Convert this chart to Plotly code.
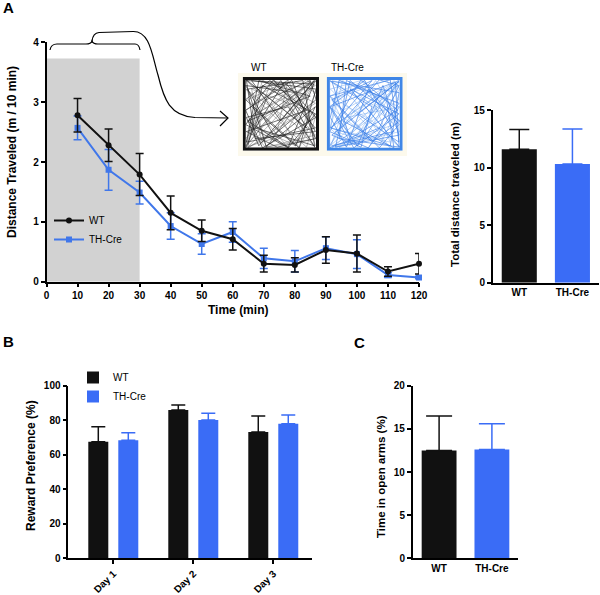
import plotly.graph_objects as go

W, H = 600, 595
def fx(p): return p / W
def fy(p): return 1 - p / H

# ---------------- data ----------------
time_min = [10, 20, 30, 40, 50, 60, 70, 80, 90, 100, 110, 120]
wt_dist = [2.78, 2.28, 1.79, 1.15, 0.85, 0.71, 0.30, 0.28, 0.53, 0.47, 0.17, 0.30]
wt_dist_err = [0.28, 0.27, 0.35, 0.28, 0.18, 0.18, 0.14, 0.12, 0.22, 0.31, 0.08, 0.17]
th_dist = [2.57, 1.87, 1.49, 0.93, 0.63, 0.83, 0.39, 0.34, 0.56, 0.46, 0.11, 0.07]
th_dist_err = [0.20, 0.34, 0.19, 0.22, 0.17, 0.17, 0.17, 0.18, 0.19, 0.24, 0.04, 0.02]

groups = ["WT", "TH-Cre"]
total_dist = [11.6, 10.3]
total_dist_err = [1.7, 3.05]

days = ["Day 1", "Day 2", "Day 3"]
wt_reward = [67.5, 85.9, 73.2]
wt_reward_err = [8.7, 2.9, 9.2]
th_reward = [68.4, 80.1, 78.0]
th_reward_err = [4.4, 3.9, 5.0]

open_arms = [12.5, 12.6]
open_arms_err = [4.0, 3.0]

# decorative trajectory sketch for the open-field insets (unit square)
traj_x = [0.03, 0.95, 0.60, 0.05, 0.90, 0.20, 0.03, 0.97, 0.40, 0.10, 0.70, 0.97, 0.30, 0.05,
          0.80, 0.96, 0.15, 0.55, 0.98, 0.25, 0.02, 0.65, 0.97, 0.45, 0.03, 0.85, 0.35, 0.02,
          0.75, 0.98, 0.10, 0.50, 0.96, 0.20, 0.03, 0.60, 0.97, 0.02, 0.30, 0.90, 0.98, 0.40,
          0.02, 0.70, 0.97, 0.15, 0.03, 0.85, 0.50, 0.02, 0.60, 0.97, 0.25, 0.05]
traj_y = [0.97, 0.92, 0.03, 0.40, 0.75, 0.97, 0.10, 0.30, 0.98, 0.60, 0.05, 0.60, 0.04, 0.85,
          0.97, 0.05, 0.30, 0.95, 0.45, 0.02, 0.55, 0.97, 0.15, 0.03, 0.25, 0.55, 0.97, 0.70,
          0.02, 0.85, 0.97, 0.40, 0.97, 0.05, 0.45, 0.60, 0.02, 0.02, 0.70, 0.97, 0.70, 0.20,
          0.90, 0.80, 0.25, 0.15, 0.98, 0.30, 0.97, 0.35, 0.02, 0.50, 0.90, 0.05]

BLACK = "#111111"
BLUE_LINE = "#4077ea"
BLUE_BAR = "#3a6cf6"
FONT = "Liberation Sans, Arial, Helvetica, sans-serif"

fig = go.Figure()

# ---------------- Panel A: time course ----------------
fig.add_trace(go.Scatter(
    x=time_min, y=th_dist, mode="lines+markers", name="TH-Cre", cliponaxis=False,
    line=dict(color=BLUE_LINE, width=2),
    marker=dict(symbol="square", size=6, color=BLUE_LINE),
    error_y=dict(type="data", array=th_dist_err, color=BLUE_LINE, thickness=1.5, width=4),
    xaxis="x", yaxis="y", legend="legend", legendrank=2))
fig.add_trace(go.Scatter(
    x=time_min, y=wt_dist, mode="lines+markers", name="WT", cliponaxis=False,
    line=dict(color=BLACK, width=2),
    marker=dict(symbol="circle", size=6, color=BLACK),
    error_y=dict(type="data", array=wt_dist_err, color=BLACK, thickness=1.5, width=4),
    xaxis="x", yaxis="y", legend="legend", legendrank=1))

# ---------------- Panel A: total distance ----------------
for i, (g, col) in enumerate(zip(groups, [BLACK, BLUE_BAR])):
    fig.add_trace(go.Bar(
        x=[i], y=[total_dist[i]], width=0.66, marker=dict(color=col, line=dict(width=0)),
        error_y=dict(type="data", symmetric=False, array=[total_dist_err[i]], arrayminus=[0],
                     color=col, thickness=1.5, width=10),
        showlegend=False, xaxis="x2", yaxis="y2"))

# ---------------- Panel B: reward preference ----------------
fig.add_trace(go.Bar(
    x=[0, 1, 2], y=wt_reward, name="WT", width=0.25, offset=-0.3125,
    marker=dict(color=BLACK, line=dict(width=0)),
    error_y=dict(type="data", symmetric=False, array=wt_reward_err, arrayminus=[0, 0, 0],
                 color=BLACK, thickness=1.5, width=7),
    xaxis="x3", yaxis="y3", legend="legend2"))
fig.add_trace(go.Bar(
    x=[0, 1, 2], y=th_reward, name="TH-Cre", width=0.25, offset=0.0625,
    marker=dict(color=BLUE_BAR, line=dict(width=0)),
    error_y=dict(type="data", symmetric=False, array=th_reward_err, arrayminus=[0, 0, 0],
                 color=BLUE_BAR, thickness=1.5, width=7),
    xaxis="x3", yaxis="y3", legend="legend2"))

# ---------------- Panel C: open arms ----------------
for i, (g, col) in enumerate(zip(groups, [BLACK, BLUE_BAR])):
    fig.add_trace(go.Bar(
        x=[i], y=[open_arms[i]], width=0.66, marker=dict(color=col, line=dict(width=0)),
        error_y=dict(type="data", symmetric=False, array=[open_arms_err[i]], arrayminus=[0],
                     color=col, thickness=1.5, width=13),
        showlegend=False, xaxis="x4", yaxis="y4"))

# ---------------- insets (open-field trajectories) ----------------
fig.add_trace(go.Scatter(x=traj_x, y=traj_y, mode="lines",
                         line=dict(color="rgba(20,20,20,0.75)", width=0.8),
                         showlegend=False, hoverinfo="skip", xaxis="x5", yaxis="y5"))
fig.add_trace(go.Scatter(x=traj_y, y=traj_x[::-1], mode="lines",
                         line=dict(color="rgba(60,60,60,0.6)", width=0.6),
                         showlegend=False, hoverinfo="skip", xaxis="x5", yaxis="y5"))
fig.add_trace(go.Scatter(x=traj_y[::-1], y=traj_x[::-1], mode="lines",
                         line=dict(color="rgba(50,120,230,0.8)", width=0.8),
                         showlegend=False, hoverinfo="skip", xaxis="x6", yaxis="y6"))
fig.add_trace(go.Scatter(x=traj_x[::-1], y=traj_y, mode="lines",
                         line=dict(color="rgba(70,140,235,0.6)", width=0.6),
                         showlegend=False, hoverinfo="skip", xaxis="x6", yaxis="y6"))

tickfont = dict(family=FONT, size=10, color="black", weight="bold")
axis_common = dict(showline=True, linecolor="black", linewidth=1.5, ticks="outside",
                   ticklen=4, tickwidth=1.5, tickcolor="black", showgrid=False,
                   zeroline=False, tickfont=tickfont, fixedrange=True, automargin=False)

hidden = dict(visible=False, range=[-0.02, 1.02], fixedrange=True, automargin=False)

fig.update_layout(
    width=W, height=H, margin=dict(l=0, r=0, t=0, b=0, autoexpand=False),
    paper_bgcolor="white", plot_bgcolor="white",
    barmode="overlay",
    font=dict(family=FONT, color="black"),
    xaxis=dict(domain=[fx(46.5), fx(419)], range=[0, 120], tickvals=list(range(0, 121, 10)),
               anchor="y", **axis_common),
    yaxis=dict(domain=[fy(281.7), fy(42.3)], range=[0, 4], dtick=1, anchor="x", **axis_common),
    xaxis2=dict(domain=[fx(492.7), fx(599)], range=[-0.5, 1.5], tickvals=[0, 1], ticktext=groups,
                anchor="y2", **{**axis_common, "ticks": ""}),
    yaxis2=dict(domain=[fy(282.7), fy(110)], range=[0, 15], dtick=5, anchor="x2", **axis_common),
    xaxis3=dict(domain=[fx(68.3), fx(312)], range=[-0.5625, 2.484], tickvals=[0, 1, 2],
                ticktext=days, tickangle=-45, anchor="y3", **axis_common),
    yaxis3=dict(domain=[fy(558.3), fy(385.7)], range=[0, 100], dtick=20, anchor="x3", **axis_common),
    xaxis4=dict(domain=[fx(412.7), fx(518.3)], range=[-0.5, 1.5], tickvals=[0, 1], ticktext=groups,
                anchor="y4", **{**axis_common, "ticks": ""}),
    yaxis4=dict(domain=[fy(558.3), fy(385.7)], range=[0, 20], dtick=5, anchor="x4", **axis_common),
    xaxis5=dict(domain=[fx(242.7), fx(319)], anchor="y5", **hidden),
    yaxis5=dict(domain=[fy(150.7), fy(77)], anchor="x5", **hidden),
    xaxis6=dict(domain=[fx(326.7), fx(402.7)], anchor="y6", **hidden),
    yaxis6=dict(domain=[fy(150.7), fy(77)], anchor="x6", **hidden),
    legend=dict(x=fx(49), y=fy(206), xanchor="left", yanchor="top", bgcolor="rgba(0,0,0,0)",
                font=dict(family=FONT, size=10, color="black"), itemwidth=30,
                traceorder="normal", tracegroupgap=0),
    legend2=dict(x=fx(73), y=fy(363), xanchor="left", yanchor="top", bgcolor="rgba(0,0,0,0)",
                 font=dict(family=FONT, size=10, color="black"), itemwidth=30,
                 traceorder="normal"),
)

shapes = []
# grey habituation window
shapes.append(dict(type="rect", xref="x", yref="y", x0=0, x1=30, y0=0, y1=3.73,
                   fillcolor="#d2d2d2", line=dict(width=0), layer="below"))
# cream background of the insets
shapes.append(dict(type="rect", xref="paper", yref="paper", x0=fx(238), x1=fx(407),
                   y0=fy(156), y1=fy(73), fillcolor="#fcf9ec", line=dict(width=0), layer="below"))
# inset borders
shapes.append(dict(type="rect", xref="x5", yref="y5", x0=0, x1=1, y0=0, y1=1,
                   line=dict(color="#111111", width=3)))
shapes.append(dict(type="rect", xref="x6", yref="y6", x0=0, x1=1, y0=0, y1=1,
                   line=dict(color="#3f86e6", width=3)))

def path(cmds):
    out = []
    for c in cmds:
        if isinstance(c, str):
            out.append(c)
        else:
            out.append(f"{fx(c[0]):.5f},{fy(c[1]):.5f}")
    return " ".join(out)

brace = path(["M", (50, 50), "Q", (51, 44), (57, 44), "L", (86, 44), "Q", (91, 44), (92, 41),
              "Q", (93, 44), (98, 44), "L", (135, 44), "Q", (139, 44), (140, 50)])
tail = path(["M", (92, 41), "Q", (93, 33), (99, 32.5), "L", (133, 31.5),
             "C", (150, 31), (152, 55), (158, 75),
             "C", (164, 100), (170, 116), (195, 117.5), "L", (228, 118)])
arrow = path(["M", (220, 111), "L", (228, 118), "L", (220, 126)])
for p in (brace, tail, arrow):
    shapes.append(dict(type="path", xref="paper", yref="paper", path=p,
                       line=dict(color="black", width=1.2)))
fig.update_layout(shapes=shapes)

def ann(text, x, y, size=12, bold=True, angle=0, xanchor="center", yanchor="middle"):
    fig.add_annotation(text=text, x=fx(x), y=fy(y), xref="paper", yref="paper",
                       showarrow=False, textangle=angle, xanchor=xanchor, yanchor=yanchor,
                       font=dict(family=FONT, size=size, color="black",
                                 weight="bold" if bold else "normal"))

# panel letters
ann("A", 1, 8, size=15, xanchor="left")
ann("B", 1, 341, size=15, xanchor="left")
ann("C", 352, 342, size=15, xanchor="left")
# axis titles
ann("Distance Traveled (m / 10 min)", 12, 152, size=12, angle=-90)
ann("Time (min)", 238, 310, size=12)
ann("Total distance traveled (m)", 455, 195, size=11.5, angle=-90)
ann("Reward Preference (%)", 31, 466, size=12, angle=-90)
ann("Time in open arms (%)", 381, 477, size=11.5, angle=-90)
# inset labels
ann("WT", 259, 67, size=10, bold=False)
ann("TH-Cre", 347, 67, size=10, bold=False)

fig.write_html("out.html", config={"displayModeBar": False},
               post_script="document.body.style.margin='0px';")
